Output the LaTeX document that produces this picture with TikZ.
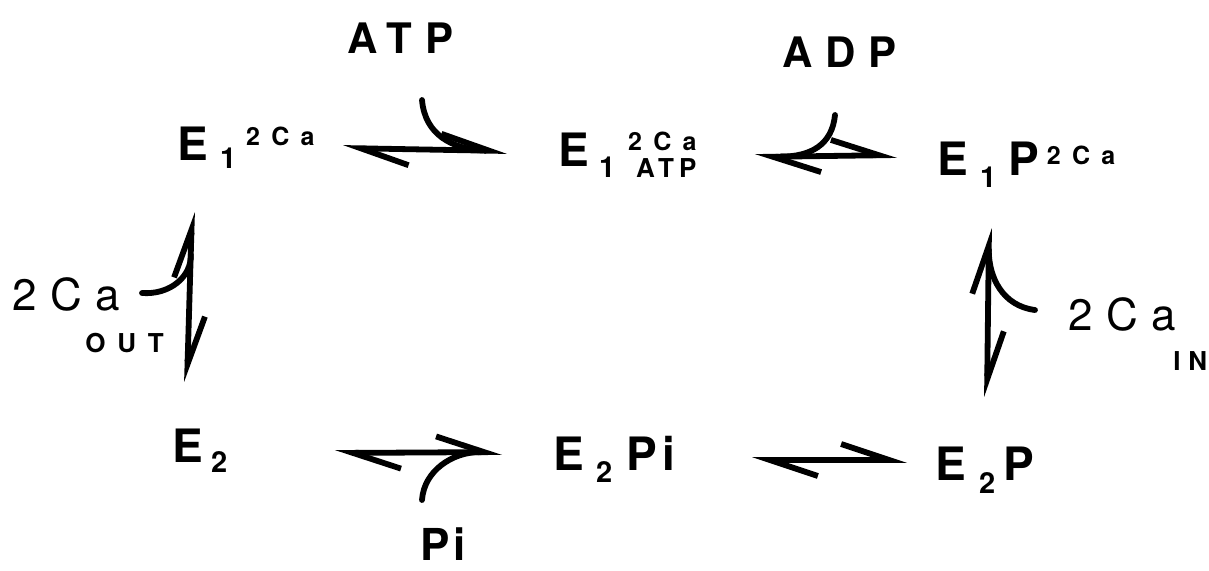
\documentclass[tikz,border=0pt]{standalone}
\usepackage{fontspec}
\setmainfont{TeX Gyre Heros}
\newfontfamily\wideA[LetterSpace=20]{TeX Gyre Heros}
\newfontfamily\wideB[LetterSpace=30]{TeX Gyre Heros}
\newfontfamily\wideC[LetterSpace=45]{TeX Gyre Heros}
\usepackage{tikz}
\usetikzlibrary{arrows.meta}

\newcommand\Ebig{\fontsize{23}{23}\selectfont\bfseries}
\newcommand\lo[2]{\raisebox{-#1}{\fontsize{14.5}{14.5}\selectfont\bfseries #2}}
\newcommand\hi[2]{\raisebox{#1}{\wideC\fontsize{12.5}{12.5}\selectfont\bfseries #2}}

\tikzset{
  eqm/.style={{Straight Barb[harpoon,length=24pt,width=16pt]}-{Straight Barb[harpoon,length=24pt,width=16pt]},line width=2.9pt},
  feed/.style={line width=2.9pt,line cap=round},
  lbl/.style={anchor=base west,inner sep=0pt}
}

\begin{document}
\begin{tikzpicture}[x=0.5pt,y=-0.5pt]
\useasboundingbox (0,0) rectangle (1209,570);
% species
\draw (177,160) node[lbl] (e1ca) {\Ebig E\hspace{6pt}\lo{4pt}{1}\hspace{5pt}\hi{7.5pt}{2Ca}};
\draw (558,166) node[lbl] (e1atp) {\Ebig E\hspace{5pt}\lo{5.5pt}{1}\hspace{10.5pt}\raisebox{-5.5pt}{\wideA\fontsize{13}{13}\selectfont\bfseries ATP}\llap{\hi{8pt}{2Ca}}};
\draw (937,175) node[lbl] (e1p) {\Ebig E\hspace{6pt}\lo{6pt}{1}\hspace{6pt}{\Ebig P}\hspace{4pt}\hi{5.5pt}{2Ca}};
\draw (172,462) node[lbl] (e2) {\Ebig E\hspace{4pt}\lo{5pt}{2}};
\draw (553,470) node[lbl] (e2pi) {\Ebig E\hspace{6pt}\lo{6pt}{2}\hspace{7pt}{\Ebig P\hspace{3pt}i}};
\draw (935,480) node[lbl] (e2p) {\Ebig E\hspace{6.5pt}\lo{6.5pt}{2}\hspace{4pt}{\Ebig P}};
% ligands
\draw (347,53) node[lbl] (atp) {\wideB\fontsize{21}{21}\selectfont\bfseries ATP};
\draw (782,67) node[lbl] (adp) {\wideB\fontsize{21}{21}\selectfont\bfseries ADP};
\draw (12,310) node[lbl] (caout) {\wideB\fontsize{22}{22}\selectfont 2Ca};
\draw (85,352) node[lbl] (outsub) {\wideC\fontsize{13}{13}\selectfont\bfseries OUT};
\draw (1068,330) node[lbl] (cain) {\wideB\fontsize{22}{22}\selectfont 2Ca};
\draw (1173,370) node[lbl] (insub) {\wideB\fontsize{13}{13}\selectfont\bfseries IN};
\draw (420,560) node[lbl] (pi) {\fontsize{22}{22}\selectfont\bfseries P\hspace{2pt}i};
% arrow ends
\coordinate (ta) at (343,148); \coordinate (tb) at (507,151);
\coordinate (tc) at (755,157); \coordinate (td) at (897,155);
\coordinate (ba) at (335,453); \coordinate (bb) at (502,452);
\coordinate (bc) at (752,460); \coordinate (bd) at (907,460);
\coordinate (la) at (187,382); \coordinate (lb) at (192,212);
\coordinate (ra) at (987,397); \coordinate (rb) at (989,228);
\coordinate (atpin) at (422,100);
\coordinate (adpout) at (835,115);
\coordinate (caoutin) at (142,293);
\coordinate (cainin) at (1035,310);
\coordinate (piin) at (422,500);
% equilibria
\draw[eqm] (ta) -- coordinate[pos=.85] (j1) (tb);
\draw[eqm] (tc) -- coordinate[pos=.18] (j2) (td);
\draw[eqm] (ba) -- coordinate[pos=.86] (j5) (bb);
\draw[eqm] (bc) -- (bd);
\draw[eqm] (la) -- coordinate[pos=.75] (j3) (lb);
\draw[eqm] (ra) -- coordinate[pos=.87] (j4) (rb);
% side branches
\draw[feed] (atpin) .. controls +(3,35) and +(-30,-2) .. (j1);
\draw[feed] (adpout) .. controls +(-3,30) and +(30,0) .. (j2);
\draw[feed] (caoutin) .. controls +(28,2) and +(1,22) .. (j3);
\draw[feed] (cainin) .. controls +(-32,-4) and +(0,28) .. (j4);
\draw[feed] (piin) .. controls +(2,-30) and +(-25,0) .. (j5);
\end{tikzpicture}
\end{document}
